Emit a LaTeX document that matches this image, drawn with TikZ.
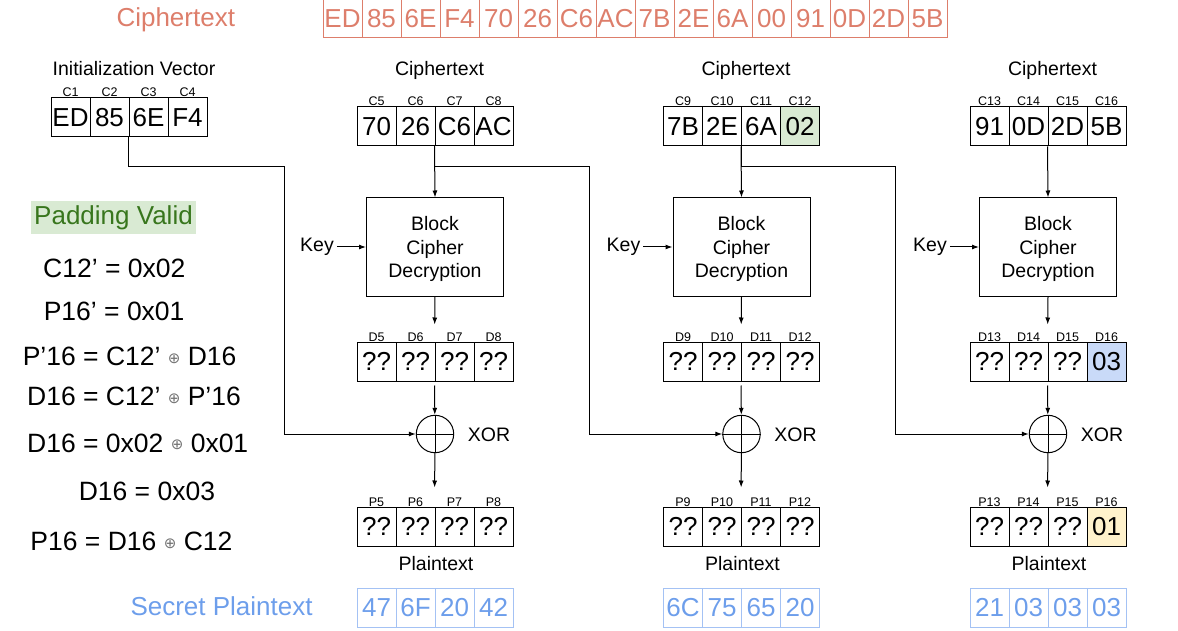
\documentclass[tikz,border=0pt]{standalone}
\usepackage{fontspec}
\setmainfont{Liberation Sans}
\newfontfamily\symfont{DejaVu Sans}
\usetikzlibrary{arrows.meta}

\definecolor{ctred}{HTML}{DD7E6B}
\definecolor{ptblue}{HTML}{6D9EEB}
\definecolor{ptline}{HTML}{A4C2F4}
\definecolor{okgreen}{HTML}{38761D}
\definecolor{okfill}{HTML}{D9EAD3}
\definecolor{dfill}{HTML}{C9DAF8}
\definecolor{pfill}{HTML}{FFF2CC}

\newcommand{\pxsize}[1]{\fontsize{#1}{#1}\selectfont}
\newcommand{\xo}{\raisebox{2.5pt}{\symfont\pxsize{15}\color{black!55}⊕}}

\tikzset{
  cell/.style={draw,minimum width=39pt,minimum height=39pt,inner sep=0pt,
    text height=18.7pt,text depth=0pt,font=\pxsize{26},label distance=5pt},
  topcell/.style={cell,draw=ctred,text=ctred},
  secret/.style={cell,draw=ptline,text=ptblue},
  tag/.style={font=\pxsize{12.5},inner sep=0pt,text height=9pt,text depth=0pt,
    draw=none,fill=none,text=black},
  caption/.style={font=\pxsize{19.5},inner sep=0pt},
  blockbox/.style={draw,minimum width=137pt,minimum height=98pt,align=center,
    text depth=0pt,font=\fontsize{19.5}{23.5}\selectfont},
  xorring/.style={draw,circle,minimum size=37.4pt,inner sep=0pt},
  eqn/.style={anchor=base west,inner sep=0pt,font=\pxsize{26.5}},
  arr/.style={-{Latex[length=7pt,width=5pt]}}
}

\begin{document}
\begin{tikzpicture}[x=1pt,y=-1pt,line width=1pt,
  declare function={colx(\n)=435+306.5*floor((\n-1)/4-1)+39*(mod(\n-1,4)-1.5);}]
  \useasboundingbox (0,0) rectangle (1178,631);

  % top row
  \node[anchor=base west,inner sep=0pt,font=\pxsize{26},text=ctred] (cttitle) at (116,27) {Ciphertext};
  \foreach \v [count=\i] in {ED,85,6E,F4,70,26,C6,AC,7B,2E,6A,00,91,0D,2D,5B}
    \node[topcell] (t\i) at (303.5+39*\i,18.5) {\v};

  % initialization vector
  \node[caption,anchor=base] (ivtitle) at (134,76) {Initialization Vector};
  \foreach \v [count=\i] in {ED,85,6E,F4}
    \node[cell,label={[tag]above:C\i}] (c\i) at (31.5+39*\i,117.5) {\v};

  % the three blocks
  \foreach \b in {1,2,3}{
    \pgfmathsetmacro\cx{435+306.5*(\b-1)}
    \node[caption,anchor=base] (hd\b) at (\cx+4.5,76) {Ciphertext};
    \node[blockbox] (blk\b) at (\cx,247) {Block\\Cipher\\Decryption};
    \node[caption,inner sep=2.5pt] (key\b) at (\cx-118,247) {Key};
    \draw[arr] (key\b) -- (blk\b);
    \node[xorring] (xor\b) at (\cx,434) {};
    \draw (xor\b.north) -- (xor\b.south) (xor\b.west) -- (xor\b.east);
    \node[caption] (xt\b) at (\cx+54,435) {XOR};
    \node[caption,anchor=base] (pl\b) at (\cx+1,570) {Plaintext};
  }

  \foreach \v/\f [count=\i from 5] in {70/white,26/white,C6/white,AC/white,7B/white,2E/white,
      6A/white,02/okfill,91/white,0D/white,2D/white,5B/white}
    \node[cell,fill=\f,label={[tag]above:C\i}] (c\i) at ({colx(\i)},126.5) {\v};
  \foreach \v/\f [count=\i from 5] in {??/white,??/white,??/white,??/white,??/white,??/white,
      ??/white,??/white,??/white,??/white,??/white,03/dfill}
    \node[cell,fill=\f,label={[tag]above:D\i}] (d\i) at ({colx(\i)},361.5) {\v};
  \foreach \v/\f [count=\i from 5] in {??/white,??/white,??/white,??/white,??/white,??/white,
      ??/white,??/white,??/white,??/white,??/white,01/pfill}
    \node[cell,fill=\f,label distance=3.5pt,label={[tag]above:P\i}] (p\i) at ({colx(\i)},526.5) {\v};

  % secret plaintext
  \node[anchor=base west,inner sep=0pt,font=\pxsize{26},text=ptblue] (sptitle) at (130,615) {Secret Plaintext};
  \foreach \v [count=\i from 5] in {47,6F,20,42,6C,75,65,20,21,03,03,03}
    \node[secret] (s\i) at ({colx(\i)},607.5) {\v};

  % data flow
  \coordinate (iv) at (284,167);
  \coordinate (br1) at (589,167);
  \coordinate (br2) at (895,167);
  \draw[arr] (c3.south west) |- (iv) |- (xor1);
  \draw[arr] (c7.south west) |- (br1) |- (xor2);
  \draw[arr] (c11.south west) |- (br2) |- (xor3);
  \foreach \b in {1,2,3}{
    \pgfmathtruncatemacro\j{4*\b+3}
    \draw[arr] (c\j.south west) -- (blk\b.north);
    \draw[arr,shorten >=17pt] (blk\b.south) -- (d\j.north west);
    \draw[arr,shorten <=4pt] (d\j.south west) -- (xor\b);
    \draw[arr,shorten >=19pt] (xor\b) -- (p\j.north west);
  }

  % padding oracle working
  \node[fill=okfill,text=okgreen,font=\pxsize{26},minimum width=165pt,minimum height=33pt,inner sep=0pt] (valid) at (113.5,217.5) {Padding Valid};
  \node[eqn] (e1) at (42.7,277.7) {C12’ = 0x02};
  \node[eqn] (e2) at (43.3,320.7) {P16’ = 0x01};
  \node[eqn] (e3) at (22.3,365.7) {P’16 = C12’ \xo{} D16};
  \node[eqn] (e4) at (26.7,405.7) {D16 = C12’ \xo{} P’16};
  \node[eqn] (e5) at (26.7,452) {D16 = 0x02 \xo{} 0x01};
  \node[eqn] (e6) at (78.3,500.7) {D16 = 0x03};
  \node[eqn] (e7) at (30,550.7) {P16 = D16 \xo{} C12};
\end{tikzpicture}
\end{document}
